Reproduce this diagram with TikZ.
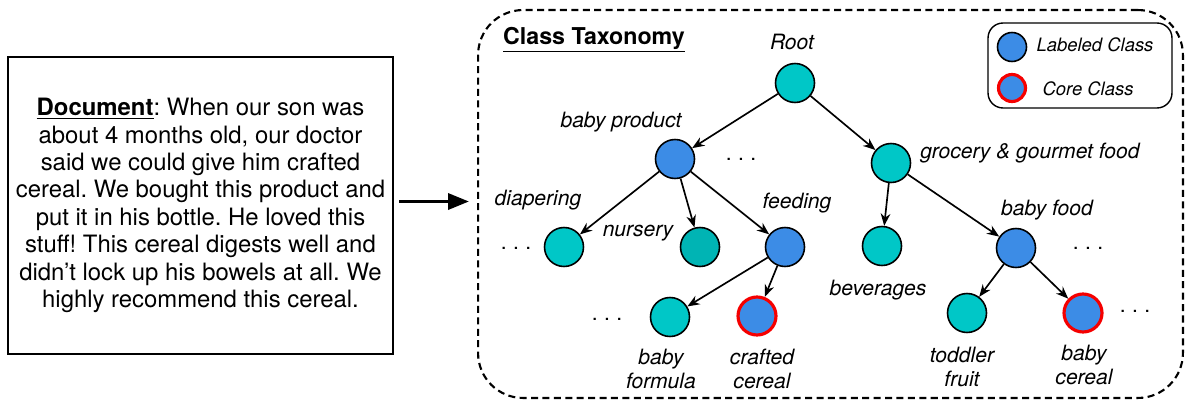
\documentclass[tikz,border=0pt]{standalone}
\usepackage{fontspec}
\setmainfont{TeX Gyre Heros}
\usetikzlibrary{arrows.meta,positioning}
\frenchspacing

\definecolor{clsteal}{RGB}{0,199,199}
\definecolor{clstealdark}{RGB}{0,180,180}
\definecolor{clsblue}{RGB}{60,140,230}
\definecolor{corered}{RGB}{245,0,0}

\tikzset{
  cls/.style={circle, draw=black, line width=0.9pt, minimum size=0.78cm, inner sep=0pt, fill=clsteal},
  labeled/.style={cls, fill=clsblue},
  core/.style={labeled, draw=corered, line width=1.8pt, minimum size=0.76cm},
  lbl/.style={font=\fontsize{12}{13.6}\selectfont\itshape, align=center, inner sep=0pt},
  keytext/.style={font=\fontsize{10.5}{12}\selectfont\itshape, inner sep=0pt},
  moredots/.style={font=\fontsize{12}{13.6}\selectfont, inner sep=0pt},
  edge/.style={-{Stealth[length=7pt,width=5.5pt]}, line width=0.95pt},
}

\begin{document}
\begin{tikzpicture}[x=0.02cm, y=-0.02cm]
  \useasboundingbox (0,0) rectangle (1186,402);

  % review text
  \node[draw, line width=0.9pt, minimum width=7.7cm, minimum height=5.94cm,
        align=center, inner sep=0pt, font=\fontsize{13.6}{15.6}\selectfont] (doc) at (200.5,205.5)
    {\underline{\textbf{Document}}: When our son was\\
     about 4 months old, our doctor\\
     said we could give him crafted\\
     cereal. We bought this product and\\
     put it in his bottle. He loved this\\
     stuff! This cereal digests well and\\
     didn’t lock up his bowels at all. We\\
     highly recommend this cereal.};

  % taxonomy frame
  \node[draw, dashed, dash pattern=on 4pt off 2.5pt, line width=1.2pt, rounded corners=0.9cm,
        minimum width=14.1cm, minimum height=7.76cm] (tax) at (830.5,204) {};
  \node[font=\fontsize{13.2}{15}\selectfont\bfseries, inner sep=0pt] (taxtitle) at (594,40) {\underline{Class Taxonomy}};

  \draw[-{Triangle[length=12pt,width=9pt]}, line width=2.2pt, shorten <=3pt, shorten >=4.5pt]
    ([yshift=0.08cm]doc.east) -- ([yshift=0.08cm]doc.east -| tax.west);

  % legend
  \node[draw, line width=0.8pt, rounded corners=0.3cm, minimum width=3.68cm, minimum height=1.7cm] (legend) at (1080,65.5) {};
  \node[labeled, minimum size=0.58cm] (keylab) at (1012,47) {};
  \node[core, minimum size=0.54cm] (keycore) at (1012,88) {};
  \node[keytext] (keylabtxt) at (1095,45) {Labeled Class};
  \node[keytext] (keycoretxt) at (1088,89) {Core Class};

  % classes
  \node[cls] (root) at (795,83) {};
  \node[labeled] (bp) at (675,159) {};
  \node[cls] (groc) at (891,163) {};
  \node[cls] (diap) at (564,247) {};
  \node[cls, fill=clstealdark] (nurs) at (700,247) {};
  \node[labeled] (feed) at (785,247) {};
  \node[cls] (bform) at (670,317) {};
  \node[core] (craft) at (757,316) {};
  \node[cls] (bev) at (882,246) {};
  \node[labeled] (bfood) at (1016,248) {};
  \node[cls] (todd) at (967,313) {};
  \node[core] (bcer) at (1083,313) {};

  \draw[edge] (root) -- (bp);
  \draw[edge] (root) -- (groc);
  \draw[edge] (bp) -- (diap);
  \draw[edge] (bp) -- (nurs);
  \draw[edge] (bp) -- (feed);
  \draw[edge] (feed) -- (bform);
  \draw[edge] (feed) -- (craft);
  \draw[edge] (groc) -- (bev);
  \draw[edge] (groc) -- (bfood);
  \draw[edge] (bfood) -- (todd);
  \draw[edge] (bfood) -- (bcer);

  % names
  \node[lbl] (rootlbl) at (792,42) {Root};
  \node[lbl] (bplbl) at (621,122) {baby product};
  \node[lbl, anchor=west] (groclbl) at (920,153) {grocery \& gourmet food};
  \node[lbl] (diaplbl) at (538,200) {diapering};
  \node[lbl] (nurslbl) at (638,233) {nursery};
  \node[lbl] (feedlbl) at (797,203) {feeding};
  \node[lbl] (bevlbl) at (878,290) {beverages};
  \node[lbl] (bfoodlbl) at (1047,210) {baby food};
  \node[lbl] (bformlbl) at (661,369) {baby\\formula};
  \node[lbl] (craftlbl) at (762,369) {crafted\\cereal};
  \node[lbl] (toddlbl) at (962,367) {toddler\\fruit};
  \node[lbl] (bcerlbl) at (1084,365) {baby\\cereal};

  % omitted siblings
  \node[moredots] (dotsa) at (741,159) {.\hspace{0.3em}.\hspace{0.3em}.};
  \node[moredots] (dotsb) at (516,248) {.\hspace{0.3em}.\hspace{0.3em}.};
  \node[moredots] (dotsc) at (607,319) {.\hspace{0.3em}.\hspace{0.3em}.};
  \node[moredots] (dotsd) at (1088,248) {.\hspace{0.3em}.\hspace{0.3em}.};
  \node[moredots] (dotse) at (1135,311) {.\hspace{0.3em}.\hspace{0.3em}.};
\end{tikzpicture}
\end{document}
